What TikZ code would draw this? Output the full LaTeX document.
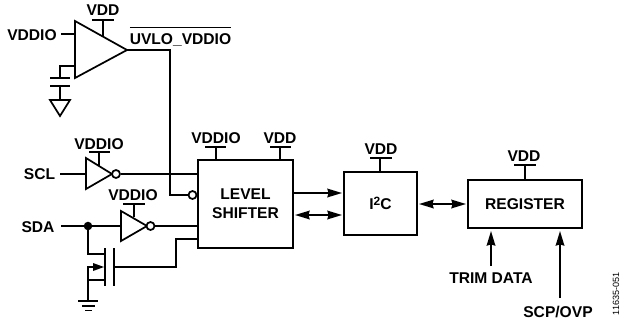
\documentclass[tikz,border=0pt]{standalone}
\usepackage{fontspec}
\setmainfont{Liberation Sans}
\usetikzlibrary{arrows.meta}

\tikzset{
  wire/.style={line width=1.3pt,line cap=butt,line join=miter},
  conn/.style={wire,{Stealth[length=11pt,width=6.5pt,inset=1pt]}-{Stealth[length=11pt,width=6.5pt,inset=1pt]}},
  feed/.style={wire,-{Stealth[length=11pt,width=6.5pt,inset=1pt]}},
  label/.style={font=\fontsize{11.7}{13}\selectfont\bfseries,inner sep=0pt},
  block/.style={draw,wire,label,align=center,inner sep=0pt,outer sep=0pt},
  bubble/.style={draw,wire,circle,fill=white,inner sep=0pt,minimum size=6pt}
}

\begin{document}
\begin{tikzpicture}[x=0.75pt,y=-0.75pt]
\useasboundingbox (0,0) rectangle (620,322);

% --- blocks ---
\node[block,minimum width=71.25pt,minimum height=66pt] (shift) at (245.5,204) {LEVEL\\[1.5pt]SHIFTER};
\node[block,minimum width=54.75pt,minimum height=47.25pt] (iic) at (380.5,203.5) {I{\fontsize{9}{9}\selectfont\raisebox{3.4pt}{2}}C};
\node[block,minimum width=85.5pt,minimum height=36pt] (reg) at (525,204) {REGISTER};

% --- UVLO comparator ---
\coordinate (Ca) at (75,21);
\coordinate (Cb) at (75,78);
\coordinate (Cc) at (127,50);
\draw[wire] (Ca) -- (Cb) -- (Cc) -- cycle;

\node[label] (vddio0) at (32,35) {VDDIO};
\coordinate (Cin) at (75,34);
\draw[wire] (61,34) -- (Cin);

% reference input with capacitor and ground
\coordinate (Cm) at (60,66);
\coordinate (Pa) at (60,78);
\coordinate (Pb) at (60,86);
\coordinate (Gt) at (60,100);
\draw[wire] (75,66) -- (Cm) -- (Pa);
\draw[wire] (50,78) -- (70,78);
\draw[wire] (50,86) -- (70,86);
\draw[wire] (Pb) -- (Gt);
\draw[wire] (50,100) -- (70,100) -- (60,116) -- cycle;

% output to the level shifter
\node[label,anchor=base west] (uvlo) at (129.5,44) {$\overline{\mbox{\rule{0pt}{10.9pt}UVLO\_VDDIO}}$};
\node[bubble] (bub0) at (192.5,195) {};
\coordinate (Cbend) at (170,50);
\coordinate (Cdown) at (170,195);
\draw[wire] (Cc) -- (Cbend) -- (Cdown) -- (bub0);

% --- SCL inverter ---
\node[label] (scl) at (39.5,174) {SCL};
\coordinate (Ia) at (86,158);
\coordinate (Ib) at (86,189);
\coordinate (Ic) at (112,174);
\draw[wire] (Ia) -- (Ib) -- (Ic) -- cycle;
\node[bubble] (bub1) at (116,174) {};
\draw[wire] (60,174) -- (86,174);
\draw[wire] (bub1) -- (198,174);

% --- SDA inverter ---
\node[label] (sda) at (38,227) {SDA};
\coordinate (Ja) at (121,211);
\coordinate (Jb) at (121,241);
\coordinate (Jc) at (147,226);
\draw[wire] (Ja) -- (Jb) -- (Jc) -- cycle;
\node[bubble] (bub2) at (150.5,226) {};
\coordinate (dot) at (88,226);
\draw[wire] (61,226) -- (121,226);
\fill (dot) circle (3.2pt);
\draw[wire] (bub2) -- (198,226);

% --- pass transistor ---
\coordinate (Md) at (105,254);
\coordinate (Ms) at (105,280);
\draw[wire] (dot) -- (88,254) -- (Md);
\draw[wire] (105,248) -- (105,286);
\draw[wire] (114,248) -- (114,286);
\draw[wire] (Ms) -- (88,280);
\draw[wire] (95,267) -- (88,267) -- (88,301);
\fill (93,263) -- (104,267) -- (93,271) -- cycle;
\draw[wire] (114,267) -- (176,267) -- (176,239) -- (198,239);
\draw[wire] (78,301) -- (98,301);
\draw[wire] (82,306) -- (95,306);
\draw[wire] (85,310.5) -- (92,310.5);

% --- supply stubs ---
\node[label] (vdd0) at (103,10) {VDD};
\draw[wire] (92,20) -- (114,20);
\draw[wire] (103,20) -- (103,36);

\node[label] (vddio1) at (99,144) {VDDIO};
\draw[wire] (89,152) -- (110,152);
\draw[wire] (99,152) -- (99,166);

\node[label] (vddio2) at (133,195) {VDDIO};
\draw[wire] (123,204) -- (145,204);
\draw[wire] (134,204) -- (134,217);

\node[label] (vddio3) at (216,138) {VDDIO};
\draw[wire] (205,147) -- (226,147);
\draw[wire] (216,147) -- (216,160);

\node[label] (vdd1) at (280,138) {VDD};
\draw[wire] (270,147) -- (291,147);
\draw[wire] (280,147) -- (280,160);

\node[label] (vdd2) at (381,149) {VDD};
\draw[wire] (370,158) -- (392,158);
\draw[wire] (380,158) -- (380,172);

\node[label] (vdd3) at (524,156) {VDD};
\draw[wire] (514,165) -- (536,165);
\draw[wire] (525,165) -- (525,180);

% --- bus arrows ---
\draw[feed] (293,193) -- (342,193);
\draw[conn] (295,215) -- (342,215);
\draw[conn] (419,204) -- (466,204);

% --- register inputs ---
\node[label] (trim) at (491,278) {TRIM DATA};
\node[label] (scp) at (558,312) {SCP/OVP};
\draw[feed] (491,266) -- (491,231);
\draw[feed] (560,298) -- (560,231);

\node[rotate=90,font=\fontsize{6.8}{7}\selectfont,inner sep=0pt] (fignum) at (616,294) {11635-051};
\end{tikzpicture}
\end{document}
